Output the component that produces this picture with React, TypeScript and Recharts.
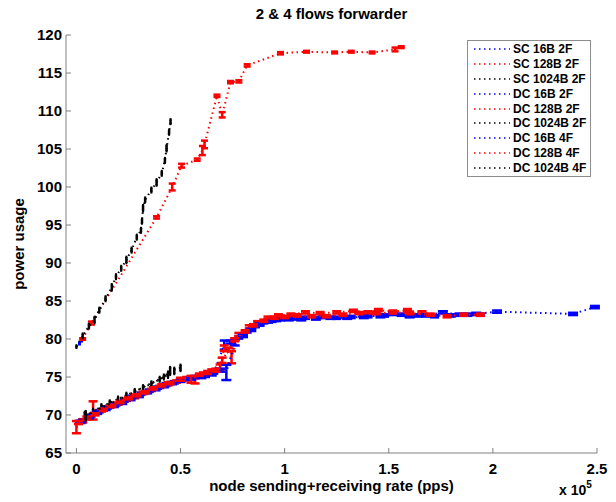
import React from 'react';
import { ComposedChart, Line, XAxis, YAxis, ErrorBar, Legend } from 'recharts';

// [rate in units of 1e5 pps, power usage, error]
type Pt = [number, number, number];

const SC_16B_2F: Pt[] = [
  [0.015, 79.4, 0.1],
  [0.025, 79.8, 0.1],
];

const SC_128B_2F: Pt[] = [
  [0.03, 80.0, 0.1], [0.072, 82.1, 0.2], [0.385, 96.0, 0.15],
  [0.46, 100.0, 0.45], [0.505, 102.8, 0.25], [0.58, 103.6, 0.15],
  [0.605, 104.8, 0.6], [0.615, 105.6, 0.5], [0.675, 112.0, 0.15], [0.70, 109.5, 0.35],
  [0.74, 113.8, 0.15], [0.78, 113.9, 0.15], [0.82, 116.0, 0.15], [0.98, 117.6, 0.15],
  [1.105, 117.8, 0.12], [1.24, 117.7, 0.12], [1.32, 117.8, 0.12], [1.42, 117.7, 0.12],
  [1.53, 118.1, 0.25], [1.56, 118.4, 0.12],
];

const SC_1024B_2F: Pt[] = [
  [0.0, 79.0, 0.15], [0.03, 80.4, 0.3], [0.06, 81.7, 0.3], [0.087, 82.5, 0.4],
  [0.11, 83.8, 0.3], [0.14, 85.3, 0.3], [0.17, 86.8, 0.4], [0.19, 88.2, 0.3],
  [0.215, 89.3, 0.3], [0.24, 90.4, 0.4], [0.265, 91.7, 0.3], [0.29, 93.4, 0.3],
  [0.31, 94.3, 0.3], [0.315, 95.5, 0.3], [0.32, 97.2, 0.4], [0.33, 98.3, 0.3],
  [0.36, 99.6, 0.3], [0.385, 100.6, 0.4], [0.41, 101.8, 0.3], [0.425, 103.5, 0.3],
  [0.433, 105.1, 0.4], [0.445, 107.2, 0.3], [0.452, 108.6, 0.3],
];

const DC_16B_2F: Pt[] = [
  [0.03, 69.3, 0.15], [0.07, 69.9, 0.15], [0.11, 70.5, 0.15], [0.15, 71.0, 0.15],
  [0.19, 71.4, 0.15], [0.23, 71.9, 0.15], [0.27, 72.4, 0.15], [0.31, 72.8, 0.15],
  [0.35, 73.2, 0.15], [0.39, 73.6, 0.15], [0.43, 74.0, 0.2], [0.47, 74.3, 0.15],
  [0.52, 74.7, 0.15], [0.57, 75.0, 0.15], [0.62, 75.2, 0.2], [0.66, 75.6, 0.15],
  [0.71, 79.2, 0.6], [0.74, 79.6, 0.2], [0.78, 80.2, 0.15], [0.82, 81.0, 0.15],
  [0.86, 81.7, 0.15], [0.90, 82.2, 0.15], [0.94, 82.4, 0.15], [0.98, 82.6, 0.15],
  [1.04, 82.7, 0.15], [1.10, 82.8, 0.15], [1.18, 82.9, 0.15], [1.25, 82.8, 0.15],
  [1.32, 82.9, 0.15], [1.40, 83.0, 0.15], [1.48, 83.1, 0.15], [1.56, 83.2, 0.15],
  [1.64, 83.1, 0.15], [1.72, 83.0, 0.15], [1.80, 83.1, 0.15], [1.88, 83.2, 0.15],
  [1.94, 83.2, 0.15],
];

const DC_128B_2F: Pt[] = [
  [0.0, 68.4, 0.8], [0.03, 69.2, 0.2], [0.08, 70.6, 1.2], [0.12, 70.6, 0.15],
  [0.16, 71.1, 0.15], [0.20, 71.5, 0.15], [0.24, 72.0, 0.15], [0.28, 72.4, 0.2],
  [0.32, 72.9, 0.15], [0.36, 73.3, 0.15], [0.40, 73.7, 0.15], [0.44, 74.1, 0.2],
  [0.48, 74.4, 0.15], [0.53, 74.8, 0.2], [0.57, 74.5, 0.35], [0.61, 75.4, 0.2],
  [0.65, 75.8, 0.2], [0.69, 76.3, 0.35], [0.71, 78.8, 0.35], [0.745, 77.6, 0.8],
  [0.78, 80.6, 0.2], [0.83, 81.6, 0.2], [0.87, 82.2, 0.15], [0.92, 82.8, 0.15],
  [0.97, 83.1, 0.15], [1.03, 83.2, 0.15], [1.10, 83.5, 0.15], [1.17, 83.4, 0.15],
  [1.25, 83.5, 0.15], [1.33, 83.7, 0.15], [1.40, 83.5, 0.15], [1.45, 83.8, 0.15],
  [1.52, 83.6, 0.15], [1.59, 83.8, 0.15], [1.66, 83.5, 0.15],
];

const DC_1024B_2F: Pt[] = [
  [0.04, 69.8, 0.6], [0.08, 70.5, 0.3], [0.12, 71.1, 0.3], [0.16, 71.6, 0.3],
  [0.20, 72.1, 0.3], [0.24, 72.6, 0.3], [0.28, 73.1, 0.3], [0.32, 73.6, 0.3],
  [0.36, 74.1, 0.3], [0.40, 74.7, 0.3], [0.44, 75.3, 0.4], [0.47, 75.8, 0.4],
];

const DC_16B_4F: Pt[] = [
  [0.02, 69.1, 0.15], [0.06, 69.7, 0.15], [0.10, 70.3, 0.15], [0.14, 70.8, 0.15],
  [0.18, 71.2, 0.15], [0.22, 71.6, 0.15], [0.26, 72.1, 0.15], [0.30, 72.5, 0.15],
  [0.34, 73.0, 0.15], [0.38, 73.4, 0.15], [0.42, 73.8, 0.15], [0.46, 74.2, 0.15],
  [0.50, 74.5, 0.15], [0.55, 74.8, 0.15], [0.60, 75.0, 0.15], [0.65, 75.4, 0.2],
  [0.69, 75.9, 0.2], [0.72, 75.6, 1.0], [0.76, 79.5, 0.35], [0.80, 80.4, 0.15],
  [0.84, 81.2, 0.15], [0.88, 81.9, 0.15], [0.92, 82.3, 0.15], [0.96, 82.5, 0.15],
  [1.02, 82.6, 0.15], [1.08, 82.6, 0.15], [1.15, 82.7, 0.15], [1.22, 82.8, 0.15],
  [1.30, 82.8, 0.15], [1.38, 82.9, 0.15], [1.46, 83.0, 0.15], [1.52, 83.3, 0.15],
  [1.60, 83.0, 0.15], [1.68, 83.1, 0.15], [1.76, 83.5, 0.15], [1.84, 83.2, 0.15],
  [1.92, 83.3, 0.15], [2.02, 83.6, 0.15], [2.385, 83.3, 0.15], [2.49, 84.2, 0.15],
];

const DC_128B_4F: Pt[] = [
  [0.01, 69.0, 0.2], [0.05, 69.6, 0.2], [0.09, 70.1, 0.15], [0.13, 70.7, 0.15],
  [0.17, 71.2, 0.15], [0.21, 71.7, 0.15], [0.25, 72.2, 0.15], [0.29, 72.6, 0.15],
  [0.33, 73.0, 0.15], [0.37, 73.5, 0.15], [0.41, 73.9, 0.15], [0.45, 74.2, 0.15],
  [0.50, 74.7, 0.2], [0.55, 74.7, 0.45], [0.59, 75.3, 0.15], [0.63, 75.6, 0.2],
  [0.67, 75.9, 0.2], [0.70, 77.2, 0.35], [0.73, 78.6, 0.2], [0.76, 79.9, 0.2],
  [0.81, 81.0, 0.15], [0.85, 81.8, 0.15], [0.90, 82.4, 0.15], [0.95, 82.8, 0.15],
  [1.00, 82.9, 0.15], [1.06, 83.1, 0.15], [1.13, 83.0, 0.15], [1.20, 83.0, 0.15],
  [1.28, 83.2, 0.15], [1.36, 83.4, 0.15], [1.44, 83.4, 0.15], [1.52, 83.5, 0.15],
  [1.60, 83.4, 0.15], [1.70, 83.2, 0.15], [1.78, 83.0, 0.15], [1.86, 83.2, 0.15],
  [1.94, 83.2, 0.15],
];

const DC_1024B_4F: Pt[] = [
  [0.045, 69.9, 0.6], [0.42, 75.0, 0.3], [0.45, 75.8, 0.5], [0.50, 76.2, 0.4],
];

const X_TICKS = [0, 50000, 100000, 150000, 200000, 250000];
const Y_TICKS = [65, 70, 75, 80, 85, 90, 95, 100, 105, 110, 115, 120];

const BLUE = '#0000ff';
const RED = '#ff0000';
const BLACK = '#000000';
const AXIS = '#808080';
const FONT = '"Liberation Sans", Arial, Helvetica, sans-serif';

const SERIES = [
  { name: 'SC 16B 2F', color: BLUE, pts: SC_16B_2F, cap: 1.5 },
  { name: 'SC 128B 2F', color: RED, pts: SC_128B_2F, cap: 3.5 },
  { name: 'SC 1024B 2F', color: BLACK, pts: SC_1024B_2F, cap: 1 },
  { name: 'DC 16B 2F', color: BLUE, pts: DC_16B_2F, cap: 4.5 },
  { name: 'DC 128B 2F', color: RED, pts: DC_128B_2F, cap: 4.5 },
  { name: 'DC 1024B 2F', color: BLACK, pts: DC_1024B_2F, cap: 1 },
  { name: 'DC 16B 4F', color: BLUE, pts: DC_16B_4F, cap: 5 },
  { name: 'DC 128B 4F', color: RED, pts: DC_128B_4F, cap: 4.5 },
  { name: 'DC 1024B 4F', color: BLACK, pts: DC_1024B_4F, cap: 1 },
];

const ORDER = SERIES.map((s) => s.name);

const toRows = (pts: Pt[]) => pts.map(([x, y, e]) => ({ x: x * 1e5, y, e }));

const renderLegend = (props: any) => {
  const payload = [...(props.payload || [])].sort(
    (a: any, b: any) => ORDER.indexOf(a.value) - ORDER.indexOf(b.value)
  );
  return (
    <div
      style={{
        border: '1px solid #8c8c8c',
        background: '#fff',
        width: 124,
        height: 137,
        boxSizing: 'border-box',
        paddingTop: 1,
      }}
    >
      {payload.map((p: any) => (
        <div key={p.value} style={{ display: 'flex', alignItems: 'center', height: 14.8 }}>
          <svg width={45} height={8} style={{ display: 'block', flex: 'none' }}>
            <line x1={6} y1={4} x2={42} y2={4} stroke={p.color} strokeWidth={1.5} strokeDasharray="1.5 3.5" />
          </svg>
          <span style={{ fontFamily: FONT, fontWeight: 'bold', fontSize: 12, color: '#000', lineHeight: '14px', whiteSpace: 'nowrap' }}>
            {p.value}
          </span>
        </div>
      ))}
    </div>
  );
};

export default function App() {
  return (
    <div style={{ position: 'absolute', left: 0, top: 0, width: 616, height: 502, background: '#fff' }}>
      <div
        style={{
          position: 'absolute', left: 66, top: 5, width: 531, textAlign: 'center',
          fontFamily: FONT, fontWeight: 'bold', fontSize: 15, color: '#000', zIndex: 2,
        }}
      >
        2 &amp; 4 flows forwarder
      </div>
      <ComposedChart width={616} height={502} margin={{ top: 35, right: 19, bottom: 0, left: 0 }}>
        <XAxis
          type="number"
          dataKey="x"
          domain={[-5000, 250000]}
          allowDataOverflow
          ticks={X_TICKS}
          tickFormatter={(v: number) => String(v / 1e5)}
          stroke={AXIS}
          tickSize={-5}
          tickMargin={15}
          height={49}
          tick={{ fill: '#000', fontSize: 15, fontWeight: 'bold', fontFamily: FONT }}
          label={{
            value: 'node sending+receiving rate (pps)',
            position: 'insideBottom',
            offset: 11,
            style: { fill: '#000', fontSize: 15, fontWeight: 'bold', fontFamily: FONT },
          }}
        />
        <YAxis
          type="number"
          domain={[65, 120]}
          allowDataOverflow
          ticks={Y_TICKS}
          stroke={AXIS}
          tickSize={-5}
          tickMargin={9}
          width={66}
          tick={{ fill: '#000', fontSize: 15, fontWeight: 'bold', fontFamily: FONT }}
          label={{
            value: 'power usage',
            angle: -90,
            position: 'insideLeft',
            offset: 19,
            style: { textAnchor: 'middle', fill: '#000', fontSize: 15, fontWeight: 'bold', fontFamily: FONT },
          }}
        />
        {SERIES.map((s) => (
          <Line
            key={s.name}
            name={s.name}
            data={toRows(s.pts)}
            dataKey="y"
            type="linear"
            stroke={s.color}
            strokeWidth={2}
            strokeDasharray="1.5 3.5"
            dot={false}
            activeDot={false}
            isAnimationActive={false}
          >
            <ErrorBar dataKey="e" direction="y" width={s.cap} stroke={s.color} strokeWidth={2.5} isAnimationActive={false} />
          </Line>
        ))}
        <Legend
          layout="vertical"
          align="center"
          verticalAlign="middle"
          content={renderLegend}
          wrapperStyle={{ left: 467, top: 40, width: 124, height: 137 }}
        />
      </ComposedChart>
      <div
        style={{
          position: 'absolute', left: 559, top: 482, fontFamily: FONT, fontWeight: 'bold',
          fontSize: 14, color: '#000', whiteSpace: 'nowrap',
        }}
      >
        x 10<sup style={{ fontSize: 10, verticalAlign: 'top', position: 'relative', top: -3 }}>5</sup>
      </div>
    </div>
  );
}
